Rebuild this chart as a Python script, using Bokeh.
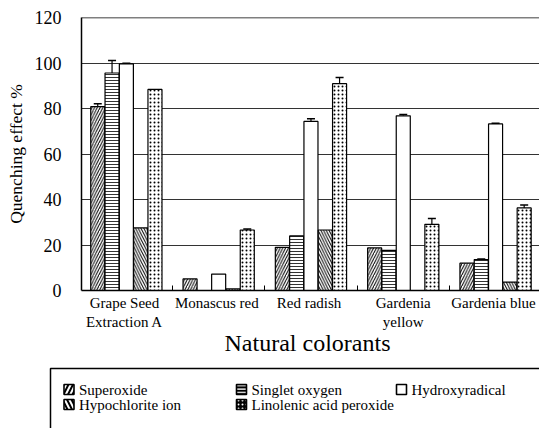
import numpy as np
from bokeh.plotting import figure
from bokeh.models import (Range1d, FixedTicker, Whisker, TeeHead, ColumnDataSource, Span)
from bokeh.embed import file_html
from bokeh.resources import INLINE
from bokeh.core.properties import value

# ---------------- data ----------------
categories = ["Grape  Seed\nExtraction  A", "Monascus  red", "Red  radish",
              "Gardenia\nyellow", "Gardenia  blue"]
series_names = ["Superoxide", "Singlet  oxygen", "Hydroxyradical",
                "Hypochlorite  ion", "Linolenic  acid  peroxide"]
superoxide = [80.8, 5.1, 19.0, 18.7, 12.0]
singlet_oxygen = [95.6, 0.0, 24.0, 17.6, 13.6]
hydroxyradical = [99.6, 7.2, 74.3, 76.8, 73.2]
hypochlorite = [27.5, 0.7, 26.6, 0.0, 3.7]
linolenic = [88.4, 26.6, 90.9, 29.1, 36.3]

superoxide_err = [1.3, 0.0, 0.0, 0.0, 0.0]
singlet_oxygen_err = [5.5, 0.0, 0.0, 0.0, 0.3]
hydroxyradical_err = [0.3, 0.0, 1.2, 0.6, 0.3]
hypochlorite_err = [0.0, 0.0, 0.0, 0.0, 0.0]
linolenic_err = [0.0, 0.4, 2.7, 2.6, 1.3]

y_ticks = [0, 20, 40, 60, 80, 100, 120]

# ---------------- styles ----------------
FONT = "'Liberation Serif', 'Times New Roman', serif"
patterns = ["/", "-", " ", "\\", "."]
hatch_scales = [5.5, 3, 6, 5.5, 4]
hatch_weights = [1, 0.8, 1, 1, 1.1]
bar_w = 0.152
offsets = [-2 * 0.155, -0.155, 0.0, 0.155, 2 * 0.155]

values = [superoxide, singlet_oxygen, hydroxyradical, hypochlorite, linolenic]
errors = [superoxide_err, singlet_oxygen_err, hydroxyradical_err, hypochlorite_err, linolenic_err]

n = len(categories)
idx = np.arange(n)

W = 539
p = figure(width=W, height=366, x_range=Range1d(-0.486, 4.476), y_range=Range1d(0, 120),
           output_backend="svg", toolbar_location=None,
           min_border_left=81, min_border_right=0, min_border_top=17, min_border_bottom=76)
p.outline_line_color = None
p.background_fill_color = "white"
p.border_fill_color = "white"

for vals, errs, pat, hs, hw, off in zip(values, errors, patterns, hatch_scales, hatch_weights, offsets):
    xs = idx + off
    p.vbar(x=xs, top=vals, width=bar_w, bottom=0, fill_color="white", line_color="black",
           line_width=1.2, hatch_pattern=pat, hatch_color="black", hatch_scale=hs, hatch_weight=hw)
    sel = [i for i in range(n) if errs[i] > 0]
    if sel:
        src = ColumnDataSource(dict(x=[xs[i] for i in sel],
                                    lower=[vals[i] for i in sel],
                                    upper=[vals[i] + errs[i] for i in sel]))
        w = Whisker(base="x", lower="lower", upper="upper", source=src,
                    upper_head=TeeHead(size=8, line_color="black", line_width=1.5),
                    lower_head=None, line_color="black", line_width=1.2)
        p.add_layout(w)

p.add_layout(Span(location=120, dimension="width", line_color="black", line_width=1.5))

# axes
p.xaxis.ticker = FixedTicker(ticks=list(idx), minor_ticks=list(idx[:-1] + 0.5))
p.xaxis.major_label_overrides = {int(i): c for i, c in zip(idx, categories)}
p.xaxis.major_tick_in = 0
p.xaxis.major_tick_out = 0
p.xaxis.minor_tick_in = 5
p.xaxis.minor_tick_out = 0
p.xaxis.minor_tick_line_color = "black"
p.xaxis.axis_line_color = "black"
p.xaxis.axis_line_width = 1.5
p.xaxis.major_label_text_font = FONT
p.xaxis.major_label_text_font_size = "15px"
p.xaxis.major_label_text_color = "black"
p.xaxis.major_label_standoff = 4
p.xaxis.axis_label = "Natural  colorants"
p.xaxis.axis_label_text_font = FONT
p.xaxis.axis_label_text_font_size = "24px"
p.xaxis.axis_label_text_font_style = "normal"
p.xaxis.axis_label_text_color = "black"
p.xaxis.axis_label_standoff = -3

p.yaxis.ticker = FixedTicker(ticks=y_ticks)
p.yaxis.major_tick_in = 0
p.yaxis.major_tick_out = 0
p.yaxis.minor_tick_line_color = None
p.yaxis.axis_line_color = "black"
p.yaxis.axis_line_width = 1.5
p.yaxis.major_label_text_font = FONT
p.yaxis.major_label_text_font_size = "18px"
p.yaxis.major_label_text_color = "black"
p.yaxis.major_label_standoff = 20
p.yaxis.axis_label = "Quenching effect %"
p.yaxis.axis_label_text_font = FONT
p.yaxis.axis_label_text_font_size = "17.5px"
p.yaxis.axis_label_text_font_style = "normal"
p.yaxis.axis_label_text_color = "black"
p.yaxis.axis_label_standoff = 6

p.xgrid.grid_line_color = None
p.ygrid.ticker = FixedTicker(ticks=y_ticks)
p.ygrid.grid_line_color = "#333333"
p.ygrid.grid_line_width = 1

# ---------------- legend panel ----------------
LW, LH = W, 62
leg = figure(width=LW, height=LH, x_range=Range1d(0, LW), y_range=Range1d(LH, 0),
             output_backend="svg", toolbar_location=None, x_axis_type=None, y_axis_type=None,
             min_border_left=0, min_border_right=0, min_border_top=0, min_border_bottom=0)
leg.outline_line_color = None
leg.xgrid.grid_line_color = None
leg.ygrid.grid_line_color = None
leg.quad(left=[50], right=[LW + 50], top=[2], bottom=[LH + 50], fill_color=None,
         line_color="black", line_width=1.5)

icon_x = [68.5, 241, 401, 68.5, 241]
icon_y = [23, 23, 23, 38, 38]
icon_fill = ["black", "black", "white", "black", "black"]
icon_hatch = ["/", "-", " ", "\\", "."]
icon_scale = [9, 3.4, 6, 9, 4]
icon_weight = [2, 1.3, 1, 2, 1.6]
for i, name in enumerate(series_names):
    leg.rect(x=[icon_x[i]], y=[icon_y[i]], width=10, height=10, fill_color=icon_fill[i],
             line_color="black", line_width=1.6, hatch_pattern=icon_hatch[i], hatch_color="white",
             hatch_scale=icon_scale[i], hatch_weight=icon_weight[i])
    leg.text(x=[icon_x[i] + 10], y=[icon_y[i]], text=[name], text_font=value(FONT),
             text_font_size="15px", text_baseline="middle", text_align="left", text_color="black")

open("out.html", "w").write(file_html([p, leg], INLINE))
